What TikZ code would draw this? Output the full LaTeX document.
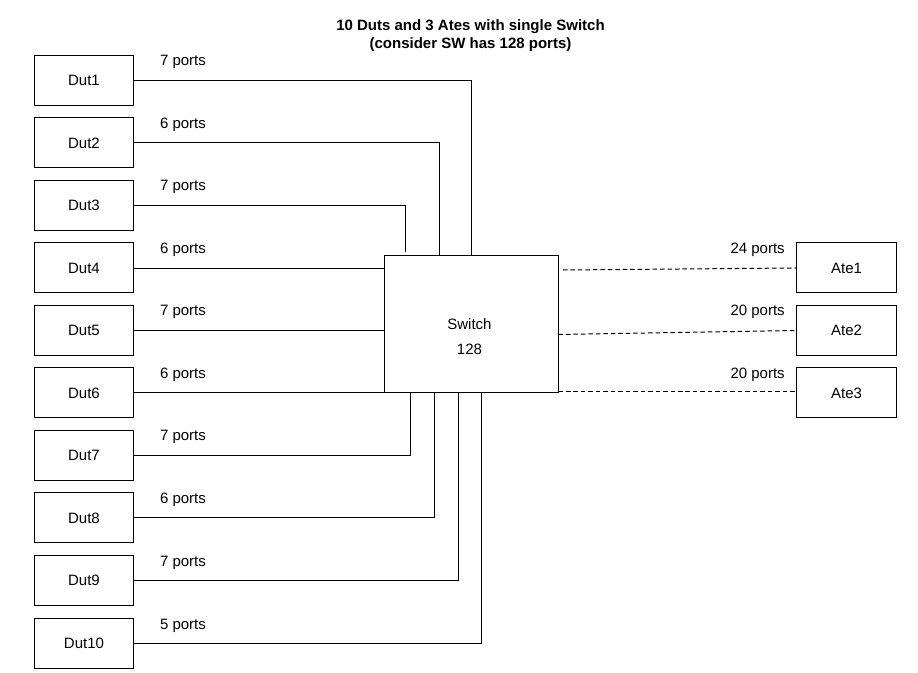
\documentclass[tikz,border=0pt]{standalone}
\usepackage{fontspec}
\setmainfont{Liberation Sans}
\begin{document}
\begin{tikzpicture}[x=0.75pt,y=-0.75pt,
  every node/.style={font=\fontsize{11.25}{13.5}\selectfont, inner sep=0pt},
  box/.style={draw=black, line width=0.75pt, rectangle, minimum width=74.25pt, minimum height=37.5pt, anchor=north west},
  conn/.style={draw=black, line width=0.75pt},
  dconn/.style={draw=black, line width=0.75pt, dash pattern=on 3.4pt off 2.2pt},
  lbl/.style={anchor=base}]
\useasboundingbox[fill=white] (0,0) rectangle (918,673);
% title
\node[align=center, font=\fontsize{11.25}{13.5}\selectfont\bfseries] (title) at (470.5,36) {10 Duts and 3 Ates with single Switch\\(consider SW has 128 ports)};
% Dut boxes
\node[box] (d1) at (34,55) {Dut1};
\node[box] (d2) at (34,117.5) {Dut2};
\node[box] (d3) at (34,180) {Dut3};
\node[box] (d4) at (34,242.5) {Dut4};
\node[box] (d5) at (34,305) {Dut5};
\node[box] (d6) at (34,367.5) {Dut6};
\node[box] (d7) at (34,430) {Dut7};
\node[box] (d8) at (34,492.5) {Dut8};
\node[box] (d9) at (34,555) {Dut9};
\node[box] (d10) at (34,617.5) {Dut10};
% Ate boxes
\node[box, minimum width=75pt] (a1) at (796,242.5) {Ate1};
\node[box, minimum width=75pt] (a2) at (796,305) {Ate2};
\node[box, minimum width=75pt] (a3) at (796,367.5) {Ate3};
% Switch
\node[draw=black, line width=0.75pt, rectangle, minimum width=130.5pt, minimum height=102.75pt, anchor=north west] (sw) at (384,255) {};
\node[align=center, font=\fontsize{11.25}{18.75}\selectfont] (swl) at (469.5,337) {Switch\\128};
% connection points
\coordinate (t1) at (471,255);
\coordinate (t2) at (439,256.5);
\coordinate (t3) at (405,252.5);
\coordinate (b7) at (410,392);
\coordinate (b8) at (434,392);
\coordinate (b9) at (458,392);
\coordinate (b10) at (481,392);
\coordinate (e1) at (563,270);
\coordinate (e2) at (558.5,334.5);
\coordinate (e3) at (558.5,392);
% connectors
\draw[conn] (d1.east) -| (t1);
\draw[conn] (d2.east) -| (t2);
\draw[conn] (d3.east) -| (t3);
\draw[conn] ([yshift=-0.75pt]d4.east) -- ([yshift=-0.75pt]d4.east -| sw.west);
\draw[conn] (d5.east) -- (d5.east -| sw.west);
\draw[conn] (d6.east) -- (sw.south west);
\draw[conn] (d7.east) -| (b7);
\draw[conn] (d8.east) -| (b8);
\draw[conn] (d9.east) -| (b9);
\draw[conn] (d10.east) -| (b10);
\draw[dconn] (e1) -- (a1.west);
\draw[dconn] (e2) -- (a2.west);
\draw[dconn] (e3) -- (a3.west |- e3);
% labels
\node[lbl] (l1) at (183,66) {7 ports};
\node[lbl] (l2) at (183,129) {6 ports};
\node[lbl] (l3) at (183,191) {7 ports};
\node[lbl] (l4) at (183,254) {6 ports};
\node[lbl] (l5) at (183,316) {7 ports};
\node[lbl] (l6) at (183,379) {6 ports};
\node[lbl] (l7) at (183,441) {7 ports};
\node[lbl] (l8) at (183,504) {6 ports};
\node[lbl] (l9) at (183,566) {7 ports};
\node[lbl] (l10) at (183,629) {5 ports};
\node[anchor=base east] (la1) at (785,254) {24 ports};
\node[anchor=base east] (la2) at (785,316) {20 ports};
\node[anchor=base east] (la3) at (785,379) {20 ports};
\end{tikzpicture}
\end{document}
